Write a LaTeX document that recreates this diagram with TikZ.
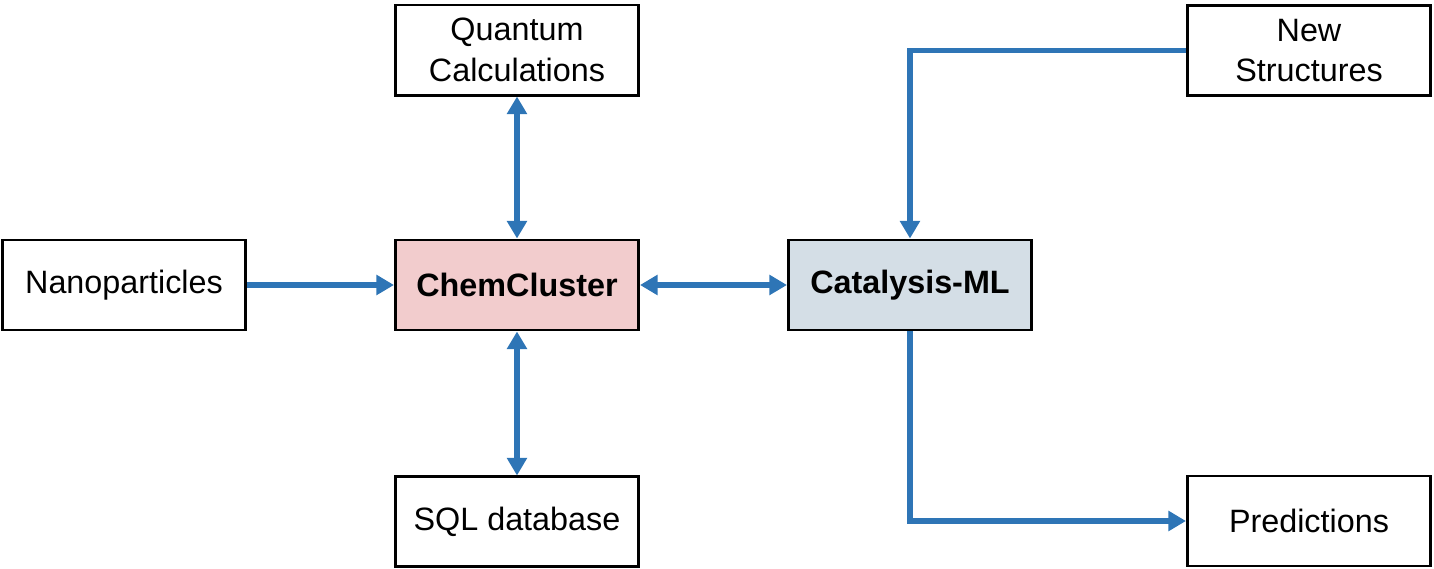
\documentclass[tikz,border=0pt]{standalone}
\usepackage{fontspec}
\setmainfont{Liberation Sans}
\usepackage{xcolor}
\usepackage{tikz}
\usetikzlibrary{positioning,arrows.meta}
\definecolor{flowblue}{RGB}{46, 117, 182}
\definecolor{clusterpink}{RGB}{242, 204, 205}
\definecolor{mlgray}{RGB}{212, 222, 230}

\begin{document}
\begin{tikzpicture}[node distance=2.9cm]
    % Define styles
    \tikzstyle{box} = [rectangle, minimum width=4.86cm, minimum height=1.8cm, align=center, draw=black, line width=1.7pt, fill=white, font=\fontsize{18.4}{23}\selectfont]
    \tikzstyle{arrow} = [line width=3.1pt, color=flowblue, -{Triangle[length=10pt, width=11pt]}]
    \tikzstyle{twoway} = [arrow, {Triangle[length=10pt, width=11pt]}-{Triangle[length=10pt, width=11pt]}]

    \useasboundingbox (-10.34,-5.68) rectangle (18.34,5.70);

    % Nodes
    \node [box, fill=clusterpink, font=\fontsize{18.4}{23}\selectfont\bfseries] (chem) at (0,0) {ChemCluster};
    \node [box, above=2.84cm of chem] (quantum) {Quantum\\Calculations};
    \node [box, below=2.88cm of chem] (sql) {SQL database};
    \node [box, left=2.94cm of chem] (nano) {Nanoparticles};
    \node [box, fill=mlgray, right=2.94cm of chem, font=\fontsize{18.4}{23}\selectfont\bfseries] (catml) {Catalysis-ML};
    \node [box] (newstruct) at (15.84,4.69) {New\\Structures};
    \node [box] (pred) at (15.84,-4.72) {Predictions};

    % Arrows
    \draw [arrow] (nano) -- (chem);
    \draw [twoway] (chem) -- (quantum);
    \draw [twoway] (chem) -- (sql);
    \draw [twoway] (chem) -- (catml);
    \draw [arrow] (newstruct.west) -| (catml.north);
    \draw [arrow] (catml.south) |- (pred.west);
\end{tikzpicture}
\end{document}
